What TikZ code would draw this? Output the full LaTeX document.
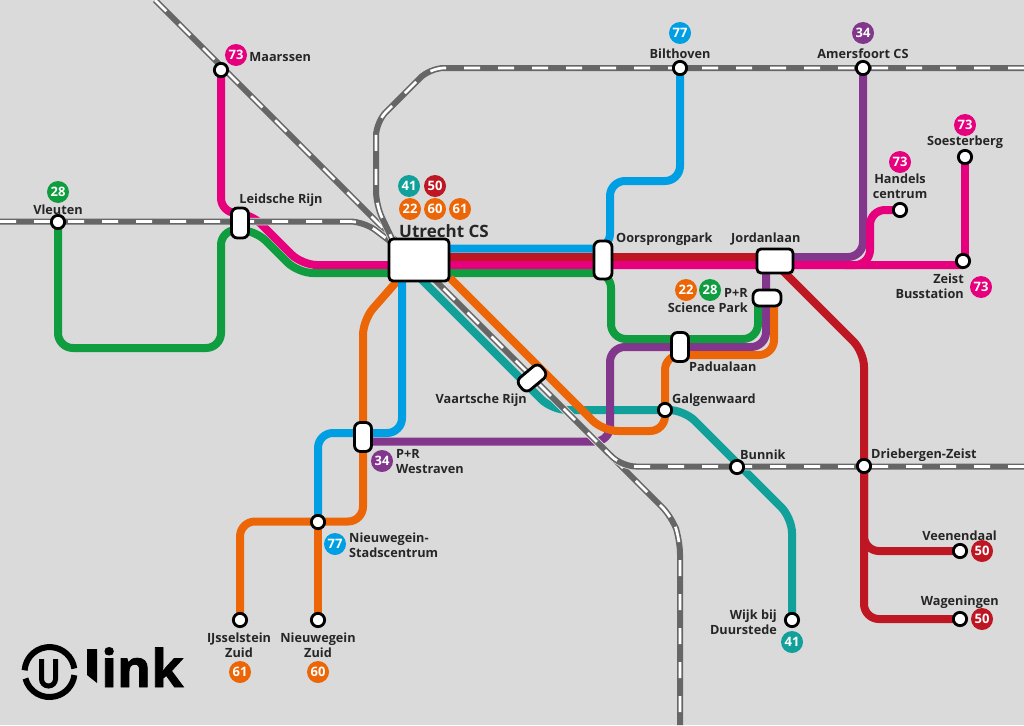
\documentclass[tikz,border=0pt]{standalone}
\usepackage{fontspec}
\setmainfont{Open Sans}
\usetikzlibrary{positioning,backgrounds}
\definecolor{mapgrey}{HTML}{DADADA}
\definecolor{railgrey}{HTML}{666666}
\definecolor{lnblue}{HTML}{009FE3}
\definecolor{lnred}{HTML}{BE1622}
\definecolor{lnpink}{HTML}{E6007E}
\definecolor{lngreen}{HTML}{0F9D3F}
\definecolor{lnorange}{HTML}{EC6608}
\definecolor{lnpurple}{HTML}{82368C}
\definecolor{lnteal}{HTML}{12A19A}
\tikzset{
  tram/.style={line width=8pt,rounded corners=15pt,draw=#1},
  rail/.style={railgrey,line width=6pt,rounded corners=14pt,
    preaction={draw=mapgrey,line width=7.5pt},
    postaction={draw=white,line width=2.7pt,dash pattern=on 16pt off 18pt}},
  halt/.style={circle,draw=black,fill=white,line width=2.8pt,minimum size=13.3pt,inner sep=0pt},
  stop/.style={rectangle,draw=black,fill=white,line width=2.8pt,rounded corners=6pt,inner sep=0pt},
  badge/.style={circle,fill=#1,text=white,minimum size=22pt,inner sep=0pt,font=\fontsize{13}{13}\selectfont\bfseries},
  lbl/.style={inner sep=0pt,font=\fontsize{12.7}{15}\selectfont\bfseries,text=black!85,align=center},
}
\begin{document}
\begin{tikzpicture}[x=1pt,y=-1pt]
\useasboundingbox (0,0) rectangle (1024,725);

\node[stop,minimum width=60pt,minimum height=42pt,rounded corners=4pt] (Utrecht) at (419,260) {};
\node[stop,minimum width=17pt,minimum height=30pt] (Leidsche) at (240,223) {};
\node[stop,minimum width=18pt,minimum height=38pt] (Oorsprong) at (603,260) {};
\node[stop,minimum width=36pt,minimum height=24pt,rounded corners=4pt] (Jordan) at (775,261) {};
\node[stop,minimum width=28pt,minimum height=16pt] (Science) at (767,298) {};
\node[stop,minimum width=17pt,minimum height=29pt] (Padua) at (680,347) {};
\node[stop,minimum width=29pt,minimum height=16pt,rotate=40] (Vaart) at (532,378) {};
\node[stop,minimum width=17pt,minimum height=29pt] (Westraven) at (363,437) {};

\node[halt] (Maarssen) at (221,70) {};
\node[halt] (Vleuten) at (58,222) {};
\node[halt] (Bilthoven) at (680,68) {};
\node[halt] (Amersfoort) at (863,68) {};
\node[halt] (Soesterberg) at (965,157) {};
\node[halt] (Handels) at (900,210) {};
\node[halt] (Zeist) at (963,261) {};
\node[halt] (Galgen) at (665,410) {};
\node[halt] (Bunnik) at (737,467) {};
\node[halt] (Driebergen) at (864,466) {};
\node[halt] (Veenendaal) at (960,551) {};
\node[halt] (Wageningen) at (960,619) {};
\node[halt] (Wijk) at (792,620) {};
\node[halt] (Stad) at (318,522) {};
\node[halt] (IJssel) at (240,620) {};
\node[halt] (NwgZuid) at (318,620) {};

\coordinate (railNW) at (155,0);
\coordinate (railW) at (0,221.5);
\coordinate (railNE) at (1024,68);
\coordinate (railE) at (1024,466.5);
\coordinate (railS) at (680,725);

\begin{scope}[on background layer]
\fill[mapgrey] (0,0) rectangle (1024,725);
\draw[tram=lnteal] (402,260) -- (552,410) -- (684,410) -- (792,518) -- (Wijk.center);
\draw[tram=lnpurple] (Amersfoort.center) -- (863,257) -- (775,257);
\draw[tram=lnpurple] (766,261) -- (766,347) -- (610,347) -- (610,441.5) -- (363,441.5);
\draw[tram=lngreen] (Vleuten.center) -- (58,348) -- (221,348) -- (221,230) -- (255,230) -- (298,273) -- (611,273) -- (611,339) -- (758,339) -- (758,298);
\draw[tram=lnorange] (774,298) -- (774,355) -- (665,355) -- (665,431) -- (603,431) -- (450,278);
\draw[tram=lnorange] (398,280) -- (363,320) -- (363,521.5) -- (240,521.5) -- (IJssel.center);
\draw[tram=lnorange] (Stad.center) -- (NwgZuid.center);
\draw[tram=lnblue] (Bilthoven.center) -- (680,181) -- (610,181) -- (610,248.5) -- (419,248.5);
\draw[tram=lnblue] (402,260) -- (402,433) -- (318,433) -- (Stad.center);
\draw[tram=lnred] (419,256.5) -- (775,256.5);
\draw[tram=lnred] (775,263) -- (864,352) -- (864,619) -- (Wageningen.center);
\draw[tram=lnred] (Driebergen.center) -- (864,551) -- (Veenendaal.center);
\draw[tram=lnpink] (Maarssen.center) -- (221,213) -- (250,213) -- (302,265) -- (963,265);
\draw[tram=lnpink] (Handels.center) -- (870,210) -- (870,265) -- (845,265);
\draw[tram=lnpink] (Soesterberg.center) -- (965,261);
\draw[rail] (railNW) -- (672,517) -- (680,540) -- (railS);
\draw[rail] (railW) -- (364,221.5) -- (395,245);
\draw[rail] (railNE) -- (430,68) -- (376,122) -- (376,205) -- (395,245);
\draw[rail] (railE) -- (622,466.5) -- (597,442);
\end{scope}

\node[badge=lnpink] (b73a) at (236,55) {73};
\node[badge=lngreen] (b28a) at (58,192) {28};
\node[badge=lnblue] (b77a) at (680,33) {77};
\node[badge=lnpurple] (b34a) at (863,33) {34};
\node[badge=lnpink] (b73b) at (965,125) {73};
\node[badge=lnpink] (b73c) at (900,162) {73};
\node[badge=lnpink] (b73d) at (981,287) {73};
\node[badge=lnteal] (b41a) at (409,186) {41};
\node[badge=lnred] (b50a) at (435,186) {50};
\node[badge=lnorange] (b22a) at (410,209) {22};
\node[badge=lnorange] (b60a) at (435,209) {60};
\node[badge=lnorange] (b61a) at (460,209) {61};
\node[badge=lnorange] (b22b) at (686,290) {22};
\node[badge=lngreen] (b28b) at (710,290) {28};
\node[badge=lnpurple] (b34b) at (382,461) {34};
\node[badge=lnblue] (b77b) at (335,544) {77};
\node[badge=lnred] (b50b) at (982,551) {50};
\node[badge=lnred] (b50c) at (982,619) {50};
\node[badge=lnteal] (b41b) at (792,642) {41};
\node[badge=lnorange] (b61b) at (240,672) {61};
\node[badge=lnorange] (b60b) at (318,672) {60};

\node[lbl,right=2pt of b73a,yshift=-2pt] (tMaarssen) {Maarssen};
\node[lbl] (tVleuten) at (58,209.5) {Vleuten};
\node[lbl] (tLeidsche) at (281,200) {Leidsche Rijn};
\node[lbl,anchor=west,font=\fontsize{17}{17}\selectfont\bfseries] (tUtrecht) at (399,231) {Utrecht CS};
\node[lbl] (tBilthoven) at (680,53.5) {Bilthoven};
\node[lbl] (tAmersfoort) at (863,53.5) {Amersfoort CS};
\node[lbl] (tSoesterberg) at (965,142) {Soesterberg};
\node[lbl] (tHandels) at (900,186) {Handels\\centrum};
\node[lbl,align=right,anchor=east] (tZeist) at (964,286) {Zeist\\Busstation};
\node[lbl,anchor=west] (tOorsprong) at (616,239) {Oorsprongpark};
\node[lbl,anchor=west] (tJordan) at (731,239) {Jordanlaan};
\node[lbl,align=right,anchor=east] (tScience) at (748,301) {P+R\\Science Park};
\node[lbl,anchor=west] (tPadua) at (689,367) {Padualaan};
\node[lbl,anchor=west] (tGalgen) at (672,400) {Galgenwaard};
\node[lbl,anchor=east] (tVaart) at (527,400) {Vaartsche Rijn};
\node[lbl,anchor=west] (tBunnik) at (740,455) {Bunnik};
\node[lbl,anchor=west] (tDriebergen) at (871,455) {Driebergen-Zeist};
\node[lbl,anchor=east] (tVeenendaal) at (997,536) {Veenendaal};
\node[lbl,anchor=east] (tWageningen) at (999,602) {Wageningen};
\node[lbl,align=right,anchor=east] (tWijk) at (777,622) {Wijk bij\\Duurstede};
\node[lbl,align=left,anchor=west] (tWestraven) at (396,462) {P+R\\Westraven};
\node[lbl,align=left,anchor=west] (tStad) at (349,545) {Nieuwegein-\\Stadscentrum};
\node[lbl] (tIJssel) at (239,645) {IJsselstein\\Zuid};
\node[lbl] (tNwgZuid) at (318,645) {Nieuwegein\\Zuid};

\draw[line width=6pt] (24.6,670.3) arc (176:8:25pt);
\draw[line width=6pt] (25.4,678.5) arc (195:353:25pt);
\draw[line width=5pt] (41.5,659) -- (41.5,679) arc (180:360:7pt) -- (55.5,659);
\fill (87,649) -- (97,649) -- (97,683) -- (87,675) -- cycle;
\node[inner sep=0pt,anchor=base west,font=\fontsize{52}{52}\selectfont\bfseries\addfontfeature{FakeBold=1.5}] (logotext) at (101,687) {ink};
\end{tikzpicture}
\end{document}
